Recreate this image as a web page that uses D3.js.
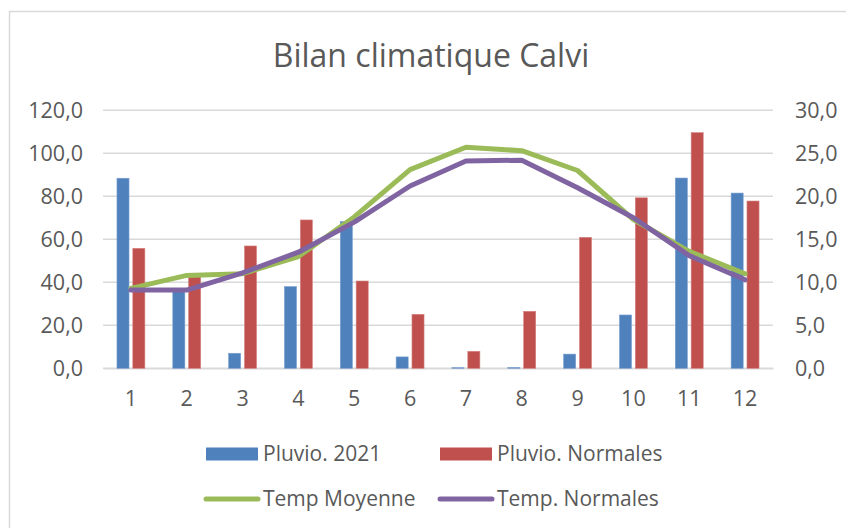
<!DOCTYPE html>
<html>
<head>
<meta charset="utf-8">
<script src="https://cdn.jsdelivr.net/npm/d3@7"></script>
<style>
  body { margin: 0; background: #fff; }
  svg text { font-family: "Open Sans", sans-serif; fill: #595959; }
</style>
</head>
<body>
<div id="main-chart"></div>
<script>
const months = ["1", "2", "3", "4", "5", "6", "7", "8", "9", "10", "11", "12"];
const pluvio2021 = [88.4, 35.8, 7.0, 38.0, 68.2, 5.3, 0.3, 0.4, 6.6, 24.8, 88.5, 81.5];
const pluvioNormales = [55.8, 44.2, 56.9, 69.0, 40.6, 25.1, 7.9, 26.5, 60.9, 79.3, 109.6, 77.8];
const tempMoyenne = [9.3, 10.8, 11.0, 13.0, 17.6, 23.1, 25.7, 25.3, 23.0, 17.3, 13.6, 11.0];
const tempNormales = [9.1, 9.1, 11.1, 13.5, 17.0, 21.2, 24.1, 24.2, 21.0, 17.5, 13.1, 10.3];
const leftTicks = [0, 20, 40, 60, 80, 100, 120];
const rightTicks = [0, 5, 10, 15, 20, 25, 30];

const width = 846;
const height = 528;
const margin = { top: 110.3, bottom: 159.7, left: 103, right: 73 };

const fmt = (v) => v.toFixed(1).replace(".", ",");

const svg = d3
  .select("#main-chart")
  .append("svg")
  .attr("width", width)
  .attr("height", height);

// chart frame
svg.append("rect")
  .attr("x", 9.5).attr("y", 11.5)
  .attr("width", width + 20).attr("height", height + 20)
  .attr("fill", "none").attr("stroke", "#d9d9d9").attr("stroke-width", 1.5);

svg.append("text")
  .attr("x", 431).attr("y", 67)
  .attr("text-anchor", "middle")
  .attr("font-size", "32px")
  .text("Bilan climatique Calvi");

const x = d3.scaleBand()
  .domain(months)
  .range([margin.left, width - margin.right])
  .paddingInner(0.5)
  .paddingOuter(0.25);

const xSub = d3.scaleBand()
  .domain(["a", "b"])
  .range([0, x.bandwidth()])
  .paddingInner(0.24);

const yLeft = d3.scaleLinear()
  .domain([0, 120])
  .range([height - margin.bottom, margin.top]);

const yRight = d3.scaleLinear()
  .domain([0, 30])
  .range([height - margin.bottom, margin.top]);

// gridlines
svg.append("g")
  .selectAll("line")
  .data(leftTicks)
  .join("line")
  .attr("x1", margin.left).attr("x2", width - margin.right)
  .attr("y1", (d) => yLeft(d)).attr("y2", (d) => yLeft(d))
  .attr("stroke", "#d9d9d9").attr("stroke-width", 1.5);

// left axis
const yAxisL = svg.append("g")
  .attr("transform", `translate(${margin.left - 20}, 0)`)
  .call(d3.axisLeft(yLeft).tickValues(leftTicks).tickFormat(fmt).tickSize(0).tickPadding(0));
yAxisL.select(".domain").remove();
yAxisL.selectAll("text").attr("font-size", "21.5px").style("fill", "#595959");
yAxisL.attr("font-family", null);

// right axis
const yAxisR = svg.append("g")
  .attr("transform", `translate(${width - margin.right + 22}, 0)`)
  .call(d3.axisRight(yRight).tickValues(rightTicks).tickFormat(fmt).tickSize(0).tickPadding(0));
yAxisR.select(".domain").remove();
yAxisR.selectAll("text").attr("font-size", "21.5px").style("fill", "#595959");
yAxisR.attr("font-family", null);

// bottom axis
const xAxis = svg.append("g")
  .attr("transform", `translate(0, ${height - margin.bottom})`)
  .call(d3.axisBottom(x).tickSize(0).tickPadding(22));
xAxis.select(".domain").attr("stroke", "#d9d9d9").attr("stroke-width", 1.5);
xAxis.selectAll("text").attr("font-size", "21.5px").style("fill", "#595959");
xAxis.attr("font-family", null);

// bars
const barSeries = [
  { key: "a", values: pluvio2021, color: "#4f81bd", edge: "#7aa0d0" },
  { key: "b", values: pluvioNormales, color: "#c0504d", edge: "#d48280" }
];

barSeries.forEach((s) => {
  svg.append("g")
    .selectAll("rect")
    .data(s.values)
    .join("rect")
    .attr("x", (d, i) => x(months[i]) + xSub(s.key))
    .attr("y", (d) => yLeft(d))
    .attr("width", xSub.bandwidth())
    .attr("height", (d) => yLeft(0) - yLeft(d))
    .attr("fill", s.color)
    .attr("stroke", s.edge)
    .attr("stroke-width", 0.6);
});

// lines
const line = d3.line()
  .x((d, i) => x(months[i]) + x.bandwidth() / 2)
  .y((d) => yRight(d));

svg.append("path")
  .datum(tempMoyenne)
  .attr("d", line)
  .attr("fill", "none")
  .attr("stroke", "#9bbb59")
  .attr("stroke-width", 5)
  .attr("stroke-linejoin", "round")
  .attr("stroke-linecap", "round");

svg.append("path")
  .datum(tempNormales)
  .attr("d", line)
  .attr("fill", "none")
  .attr("stroke", "#8064a2")
  .attr("stroke-width", 5)
  .attr("stroke-linejoin", "round")
  .attr("stroke-linecap", "round");

// legend
const legend = svg.append("g");
const legendItems = [
  { name: "Pluvio. 2021", color: "#4f81bd", type: "rect", x: 206, y: 454 },
  { name: "Pluvio. Normales", color: "#c0504d", type: "rect", x: 440, y: 454 },
  { name: "Temp Moyenne", color: "#9bbb59", type: "line", x: 206, y: 499 },
  { name: "Temp. Normales", color: "#8064a2", type: "line", x: 440, y: 499 }
];

legendItems.forEach((d) => {
  if (d.type === "rect") {
    legend.append("rect")
      .attr("x", d.x).attr("y", d.y - 6.5)
      .attr("width", 52).attr("height", 13)
      .attr("fill", d.color);
  } else {
    legend.append("line")
      .attr("x1", d.x).attr("x2", d.x + 52)
      .attr("y1", d.y).attr("y2", d.y)
      .attr("stroke", d.color).attr("stroke-width", 5)
      .attr("stroke-linecap", "round");
  }
  legend.append("text")
    .attr("x", d.x + 57).attr("y", d.y)
    .attr("dy", "0.35em")
    .attr("font-size", "21px")
    .text(d.name);
});
</script>
</body>
</html>
